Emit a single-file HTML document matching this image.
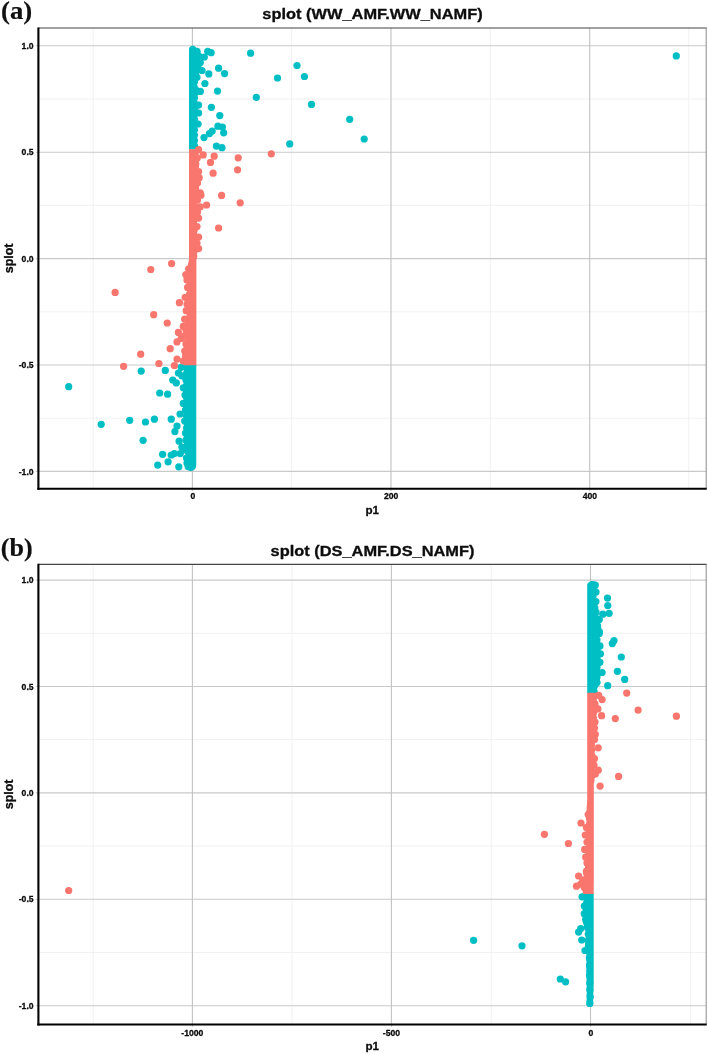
<!DOCTYPE html>
<html><head><meta charset="utf-8"><title>splot</title>
<style>
html,body{margin:0;padding:0;background:#fff;}
svg{display:block;}
text{font-family:"Liberation Sans",sans-serif;font-weight:bold;fill:#0d0d0d;stroke:#0d0d0d;stroke-width:0.3px;}
.tk{font-size:8.65px;}
.ax{font-size:12.5px;}
.tt{font-size:14.4px;}
.pl{font-family:"Liberation Serif",serif;font-size:26px;font-weight:bold;fill:#111;stroke-width:0.2px;}
</style></head><body>
<svg width="708" height="1054" viewBox="0 0 708 1054">
<rect width="708" height="1054" fill="#fff"/>
<line x1="38.4" x2="706.2" y1="99.0" y2="99.0" stroke="#efefef" stroke-width="0.9"/>
<line x1="38.4" x2="706.2" y1="205.4" y2="205.4" stroke="#efefef" stroke-width="0.9"/>
<line x1="38.4" x2="706.2" y1="311.8" y2="311.8" stroke="#efefef" stroke-width="0.9"/>
<line x1="38.4" x2="706.2" y1="418.2" y2="418.2" stroke="#efefef" stroke-width="0.9"/>
<line x1="93.2" x2="93.2" y1="28.0" y2="488.7" stroke="#efefef" stroke-width="0.9"/>
<line x1="291.7" x2="291.7" y1="28.0" y2="488.7" stroke="#efefef" stroke-width="0.9"/>
<line x1="490.3" x2="490.3" y1="28.0" y2="488.7" stroke="#efefef" stroke-width="0.9"/>
<line x1="688.8" x2="688.8" y1="28.0" y2="488.7" stroke="#efefef" stroke-width="0.9"/>
<line x1="35.8" x2="706.2" y1="45.8" y2="45.8" stroke="#c9c9c9" stroke-width="1.1"/>
<line x1="35.8" x2="706.2" y1="152.2" y2="152.2" stroke="#c9c9c9" stroke-width="1.1"/>
<line x1="35.8" x2="706.2" y1="258.6" y2="258.6" stroke="#c9c9c9" stroke-width="1.1"/>
<line x1="35.8" x2="706.2" y1="365.0" y2="365.0" stroke="#c9c9c9" stroke-width="1.1"/>
<line x1="35.8" x2="706.2" y1="471.4" y2="471.4" stroke="#c9c9c9" stroke-width="1.1"/>
<line x1="192.4" x2="192.4" y1="28.0" y2="490.9" stroke="#c2c2c2" stroke-width="1.1"/>
<line x1="391.0" x2="391.0" y1="28.0" y2="490.9" stroke="#c2c2c2" stroke-width="1.1"/>
<line x1="589.7" x2="589.7" y1="28.0" y2="490.9" stroke="#c2c2c2" stroke-width="1.1"/>
<circle cx="676.3" cy="55.9" r="3.62" fill="#00BFC4"/><circle cx="250.6" cy="53.2" r="3.62" fill="#00BFC4"/><circle cx="207.7" cy="51.3" r="3.62" fill="#00BFC4"/><circle cx="211.1" cy="52.7" r="3.62" fill="#00BFC4"/><circle cx="204.3" cy="57.0" r="3.62" fill="#00BFC4"/><circle cx="218.6" cy="68.2" r="3.62" fill="#00BFC4"/><circle cx="224.6" cy="73.6" r="3.62" fill="#00BFC4"/><circle cx="208.8" cy="73.9" r="3.62" fill="#00BFC4"/><circle cx="202.0" cy="70.5" r="3.62" fill="#00BFC4"/><circle cx="204.9" cy="83.5" r="3.62" fill="#00BFC4"/><circle cx="217.5" cy="91.1" r="3.62" fill="#00BFC4"/><circle cx="256.3" cy="97.3" r="3.62" fill="#00BFC4"/><circle cx="200.3" cy="91.4" r="3.62" fill="#00BFC4"/><circle cx="197.0" cy="51.3" r="3.62" fill="#00BFC4"/><circle cx="198.6" cy="55.8" r="3.62" fill="#00BFC4"/><circle cx="200.3" cy="62.6" r="3.62" fill="#00BFC4"/><circle cx="197.0" cy="77.3" r="3.62" fill="#00BFC4"/><circle cx="211.4" cy="107.3" r="3.62" fill="#00BFC4"/><circle cx="219.8" cy="115.6" r="3.62" fill="#00BFC4"/><circle cx="217.9" cy="126.2" r="3.62" fill="#00BFC4"/><circle cx="222.4" cy="127.1" r="3.62" fill="#00BFC4"/><circle cx="223.7" cy="132.8" r="3.62" fill="#00BFC4"/><circle cx="212.2" cy="131.1" r="3.62" fill="#00BFC4"/><circle cx="209.4" cy="133.6" r="3.62" fill="#00BFC4"/><circle cx="204.0" cy="137.6" r="3.62" fill="#00BFC4"/><circle cx="216.4" cy="146.1" r="3.62" fill="#00BFC4"/><circle cx="222.0" cy="147.7" r="3.62" fill="#00BFC4"/><circle cx="198.6" cy="105.1" r="3.62" fill="#00BFC4"/><circle cx="198.6" cy="113.0" r="3.62" fill="#00BFC4"/><circle cx="198.1" cy="124.0" r="3.62" fill="#00BFC4"/><circle cx="297.0" cy="65.5" r="3.62" fill="#00BFC4"/><circle cx="277.5" cy="78.0" r="3.62" fill="#00BFC4"/><circle cx="304.4" cy="76.5" r="3.62" fill="#00BFC4"/><circle cx="311.5" cy="104.4" r="3.62" fill="#00BFC4"/><circle cx="349.7" cy="119.3" r="3.62" fill="#00BFC4"/><circle cx="364.2" cy="139.0" r="3.62" fill="#00BFC4"/><circle cx="289.7" cy="143.9" r="3.62" fill="#00BFC4"/><circle cx="141.2" cy="371.1" r="3.62" fill="#00BFC4"/><circle cx="165.3" cy="370.4" r="3.62" fill="#00BFC4"/><circle cx="181.2" cy="367.3" r="3.62" fill="#00BFC4"/><circle cx="178.4" cy="373.0" r="3.62" fill="#00BFC4"/><circle cx="181.9" cy="375.8" r="3.62" fill="#00BFC4"/><circle cx="172.7" cy="380.0" r="3.62" fill="#00BFC4"/><circle cx="176.3" cy="382.9" r="3.62" fill="#00BFC4"/><circle cx="159.7" cy="393.0" r="3.62" fill="#00BFC4"/><circle cx="167.6" cy="394.2" r="3.62" fill="#00BFC4"/><circle cx="180.1" cy="414.0" r="3.62" fill="#00BFC4"/><circle cx="171.3" cy="419.2" r="3.62" fill="#00BFC4"/><circle cx="154.4" cy="419.2" r="3.62" fill="#00BFC4"/><circle cx="145.5" cy="422.0" r="3.62" fill="#00BFC4"/><circle cx="129.7" cy="420.3" r="3.62" fill="#00BFC4"/><circle cx="101.2" cy="424.3" r="3.62" fill="#00BFC4"/><circle cx="177.0" cy="426.0" r="3.62" fill="#00BFC4"/><circle cx="174.9" cy="431.6" r="3.62" fill="#00BFC4"/><circle cx="143.1" cy="440.3" r="3.62" fill="#00BFC4"/><circle cx="179.1" cy="441.2" r="3.62" fill="#00BFC4"/><circle cx="162.6" cy="454.3" r="3.62" fill="#00BFC4"/><circle cx="171.2" cy="455.0" r="3.62" fill="#00BFC4"/><circle cx="174.3" cy="453.6" r="3.62" fill="#00BFC4"/><circle cx="183.3" cy="403.4" r="3.62" fill="#00BFC4"/><circle cx="184.7" cy="421.0" r="3.62" fill="#00BFC4"/><circle cx="185.5" cy="433.0" r="3.62" fill="#00BFC4"/><circle cx="181.9" cy="447.1" r="3.62" fill="#00BFC4"/><circle cx="183.3" cy="387.8" r="3.62" fill="#00BFC4"/><circle cx="168.1" cy="461.8" r="3.62" fill="#00BFC4"/><circle cx="157.7" cy="465.1" r="3.62" fill="#00BFC4"/><circle cx="178.8" cy="466.8" r="3.62" fill="#00BFC4"/><circle cx="188.2" cy="466.6" r="3.62" fill="#00BFC4"/><circle cx="180.3" cy="453.6" r="3.62" fill="#00BFC4"/><circle cx="68.7" cy="386.7" r="3.62" fill="#00BFC4"/><circle cx="186.0" cy="440.0" r="3.62" fill="#00BFC4"/><circle cx="186.0" cy="450.0" r="3.62" fill="#00BFC4"/><circle cx="186.5" cy="458.0" r="3.62" fill="#00BFC4"/><circle cx="187.0" cy="463.0" r="3.62" fill="#00BFC4"/><circle cx="185.0" cy="395.0" r="3.62" fill="#00BFC4"/><circle cx="185.5" cy="410.0" r="3.62" fill="#00BFC4"/><circle cx="186.0" cy="380.0" r="3.62" fill="#00BFC4"/><path d="M192.7 45.5 L195.2 46.5 L196.0 47.5 L196.3 48.5 L197.9 49.5 L199.9 50.5 L200.6 51.5 L200.0 52.5 L200.1 53.5 L200.7 54.5 L201.0 55.5 L201.0 56.5 L200.5 57.5 L200.2 58.5 L200.8 59.5 L201.3 60.5 L201.3 61.5 L200.9 62.5 L200.3 63.5 L200.9 64.5 L201.4 65.5 L201.5 66.5 L201.2 67.5 L200.6 68.5 L200.8 69.5 L201.1 70.5 L200.8 71.5 L200.1 72.5 L199.2 73.5 L198.6 74.5 L199.0 75.5 L199.1 76.5 L198.8 77.5 L198.1 78.5 L197.1 79.5 L197.7 80.5 L198.0 81.5 L198.1 82.5 L197.7 83.5 L197.1 84.5 L197.3 85.5 L197.8 86.5 L198.5 87.5 L199.4 88.5 L199.4 89.5 L199.3 90.5 L199.9 91.5 L200.2 92.5 L200.1 93.5 L199.1 94.5 L197.6 95.5 L197.7 96.5 L198.1 97.5 L198.2 98.5 L197.8 99.5 L197.1 100.5 L197.5 101.5 L198.1 102.5 L198.2 103.5 L197.9 104.5 L197.4 105.5 L197.4 106.5 L197.9 107.5 L198.2 108.5 L198.1 109.5 L197.5 110.5 L197.1 111.5 L197.8 112.5 L198.2 113.5 L198.1 114.5 L197.7 115.5 L197.1 116.5 L197.6 117.5 L198.1 118.5 L198.2 119.5 L197.9 120.5 L197.3 121.5 L197.4 122.5 L198.0 123.5 L198.2 124.5 L198.0 125.5 L197.5 126.5 L197.2 127.5 L197.8 128.5 L198.2 129.5 L198.1 130.5 L197.7 131.5 L197.0 132.5 L197.7 133.5 L198.1 134.5 L198.2 135.5 L197.8 136.5 L197.2 137.5 L197.5 138.5 L198.0 139.5 L198.2 140.5 L198.0 141.5 L197.4 142.5 L197.3 143.5 L197.9 144.5 L198.2 145.5 L198.1 146.5 L197.6 147.5 L197.1 148.5 L197.7 149.5 L197.8 149.6 L189.0 149.6 L189.0 149.5 L189.0 148.5 L189.0 147.5 L189.0 146.5 L189.0 145.5 L189.0 144.5 L189.0 143.5 L189.0 142.5 L189.0 141.5 L189.0 140.5 L189.0 139.5 L189.0 138.5 L189.0 137.5 L189.0 136.5 L189.0 135.5 L189.0 134.5 L189.0 133.5 L189.0 132.5 L189.0 131.5 L189.0 130.5 L189.0 129.5 L189.0 128.5 L189.0 127.5 L189.0 126.5 L189.0 125.5 L189.0 124.5 L189.0 123.5 L189.0 122.5 L189.0 121.5 L189.0 120.5 L189.0 119.5 L189.0 118.5 L189.0 117.5 L189.0 116.5 L189.0 115.5 L189.0 114.5 L189.0 113.5 L189.0 112.5 L189.0 111.5 L189.0 110.5 L189.0 109.5 L189.0 108.5 L189.0 107.5 L189.0 106.5 L189.0 105.5 L189.0 104.5 L189.0 103.5 L189.0 102.5 L189.0 101.5 L189.0 100.5 L189.0 99.5 L189.0 98.5 L189.0 97.5 L189.0 96.5 L189.0 95.5 L189.0 94.5 L189.0 93.5 L189.0 92.5 L189.0 91.5 L189.0 90.5 L189.0 89.5 L189.0 88.5 L189.0 87.5 L189.0 86.5 L189.0 85.5 L189.0 84.5 L189.0 83.5 L189.0 82.5 L189.0 81.5 L189.0 80.5 L189.0 79.5 L189.0 78.5 L189.0 77.5 L189.0 76.5 L189.0 75.5 L189.0 74.5 L189.0 73.5 L189.0 72.5 L189.0 71.5 L189.0 70.5 L189.0 69.5 L189.0 68.5 L189.0 67.5 L189.0 66.5 L189.0 65.5 L189.0 64.5 L189.0 63.5 L189.0 62.5 L189.0 61.5 L189.0 60.5 L189.0 59.5 L189.0 58.5 L189.0 57.5 L189.0 56.5 L189.0 55.5 L189.0 54.5 L189.0 53.5 L189.0 52.5 L189.0 51.5 L189.0 50.5 L189.0 49.5 L189.1 48.5 L189.4 47.5 L190.2 46.5 L192.7 45.5Z" fill="#00BFC4"/><path d="M196.4 365.0 L196.3 366.0 L196.3 367.0 L196.3 368.0 L196.3 369.0 L196.3 370.0 L196.3 371.0 L196.3 372.0 L196.3 373.0 L196.3 374.0 L196.3 375.0 L196.3 376.0 L196.3 377.0 L196.3 378.0 L196.3 379.0 L196.3 380.0 L196.3 381.0 L196.3 382.0 L196.3 383.0 L196.3 384.0 L196.3 385.0 L196.3 386.0 L196.3 387.0 L196.3 388.0 L196.3 389.0 L196.3 390.0 L196.3 391.0 L196.3 392.0 L196.3 393.0 L196.3 394.0 L196.3 395.0 L196.3 396.0 L196.3 397.0 L196.3 398.0 L196.3 399.0 L196.3 400.0 L196.3 401.0 L196.3 402.0 L196.3 403.0 L196.3 404.0 L196.3 405.0 L196.3 406.0 L196.3 407.0 L196.3 408.0 L196.3 409.0 L196.3 410.0 L196.3 411.0 L196.3 412.0 L196.3 413.0 L196.3 414.0 L196.3 415.0 L196.3 416.0 L196.3 417.0 L196.3 418.0 L196.3 419.0 L196.3 420.0 L196.3 421.0 L196.3 422.0 L196.3 423.0 L196.3 424.0 L196.3 425.0 L196.3 426.0 L196.3 427.0 L196.3 428.0 L196.3 429.0 L196.3 430.0 L196.3 431.0 L196.3 432.0 L196.3 433.0 L196.3 434.0 L196.3 435.0 L196.3 436.0 L196.3 437.0 L196.3 438.0 L196.3 439.0 L196.3 440.0 L196.3 441.0 L196.3 442.0 L196.3 443.0 L196.3 444.0 L196.3 445.0 L196.3 446.0 L196.3 447.0 L196.3 448.0 L196.3 449.0 L196.3 450.0 L196.3 451.0 L196.3 452.0 L196.3 453.0 L196.3 454.0 L196.3 455.0 L196.3 456.0 L196.3 457.0 L196.3 458.0 L196.3 459.0 L196.3 460.0 L196.3 461.0 L196.3 462.0 L196.3 463.0 L196.3 464.0 L196.3 465.0 L196.1 466.0 L196.0 467.0 L195.6 468.0 L195.0 469.0 L194.0 470.0 L191.8 471.0 L190.8 471.1 L190.8 471.1 L189.8 471.0 L187.6 470.0 L186.6 469.0 L186.0 468.0 L185.7 467.0 L185.5 466.0 L184.9 465.0 L184.9 464.0 L185.2 463.0 L185.8 462.0 L185.6 461.0 L185.1 460.0 L184.8 459.0 L184.8 458.0 L185.1 457.0 L185.6 456.0 L185.6 455.0 L185.0 454.0 L184.7 453.0 L184.6 452.0 L184.7 451.0 L185.0 450.0 L185.0 449.0 L184.2 448.0 L183.7 447.0 L183.4 446.0 L183.5 445.0 L184.0 444.0 L184.2 443.0 L183.6 442.0 L183.2 441.0 L183.1 440.0 L183.3 439.0 L183.8 438.0 L184.1 437.0 L183.6 436.0 L183.2 435.0 L183.0 434.0 L183.2 433.0 L183.7 432.0 L184.1 431.0 L183.5 430.0 L183.1 429.0 L182.9 428.0 L183.1 427.0 L183.5 426.0 L184.1 425.0 L183.5 424.0 L183.0 423.0 L182.8 422.0 L183.0 421.0 L183.4 420.0 L183.9 419.0 L183.5 418.0 L183.0 417.0 L182.8 416.0 L182.9 415.0 L183.3 414.0 L183.9 413.0 L183.5 412.0 L183.1 411.0 L182.8 410.0 L182.9 409.0 L183.3 408.0 L183.9 407.0 L183.6 406.0 L183.1 405.0 L182.9 404.0 L182.9 403.0 L183.3 402.0 L183.8 401.0 L183.7 400.0 L183.2 399.0 L182.9 398.0 L182.9 397.0 L183.2 396.0 L183.8 395.0 L183.8 394.0 L183.3 393.0 L182.9 392.0 L182.9 391.0 L183.2 390.0 L183.7 389.0 L183.9 388.0 L183.3 387.0 L183.0 386.0 L182.9 385.0 L183.2 384.0 L183.7 383.0 L184.0 382.0 L183.4 381.0 L183.0 380.0 L183.0 379.0 L183.2 378.0 L183.7 377.0 L184.0 376.0 L183.5 375.0 L183.1 374.0 L183.0 373.0 L183.2 372.0 L183.6 371.0 L184.1 370.0 L183.5 369.0 L183.1 368.0 L183.0 367.0 L183.2 366.0 L183.6 365.0Z" fill="#00BFC4"/><path d="M197.5 149.2 L198.2 150.2 L199.0 151.2 L199.3 152.2 L198.6 153.2 L198.5 154.2 L198.9 155.2 L199.1 156.2 L198.8 157.2 L198.2 158.2 L197.6 159.2 L198.2 160.2 L198.6 161.2 L198.7 162.2 L198.3 163.2 L197.7 164.2 L198.3 165.2 L198.9 166.2 L199.0 167.2 L198.8 168.2 L198.2 169.2 L198.4 170.2 L199.0 171.2 L199.2 172.2 L199.0 173.2 L198.5 174.2 L198.3 175.2 L198.9 176.2 L199.2 177.2 L199.2 178.2 L198.7 179.2 L198.1 180.2 L198.8 181.2 L199.2 182.2 L199.3 183.2 L198.9 184.2 L198.3 185.2 L198.6 186.2 L199.1 187.2 L199.3 188.2 L199.1 189.2 L198.6 190.2 L198.4 191.2 L199.1 192.2 L199.4 193.2 L199.3 194.2 L198.8 195.2 L198.1 196.2 L198.1 197.2 L197.8 198.2 L197.8 199.2 L197.5 200.2 L197.0 201.2 L197.3 202.2 L197.7 203.2 L197.8 204.2 L197.6 205.2 L197.2 206.2 L197.2 207.2 L197.6 208.2 L197.8 209.2 L197.7 210.2 L197.3 211.2 L197.0 212.2 L197.5 213.2 L197.8 214.2 L197.7 215.2 L197.4 216.2 L196.9 217.2 L197.3 218.2 L197.7 219.2 L197.7 220.2 L197.5 221.2 L197.1 222.2 L197.2 223.2 L197.6 224.2 L197.7 225.2 L197.6 226.2 L197.2 227.2 L197.0 228.2 L197.5 229.2 L197.7 230.2 L197.6 231.2 L197.3 232.2 L196.9 233.2 L197.3 234.2 L197.6 235.2 L197.7 236.2 L197.4 237.2 L197.0 238.2 L197.2 239.2 L197.5 240.2 L197.6 241.2 L197.5 242.2 L197.1 243.2 L197.0 244.2 L197.4 245.2 L197.6 246.2 L197.5 247.2 L197.2 248.2 L196.9 249.2 L197.3 250.2 L197.5 251.2 L197.6 252.2 L197.3 253.2 L196.9 254.2 L197.2 255.2 L197.4 256.2 L197.2 257.2 L196.8 258.2 L196.6 259.2 L196.4 260.2 L196.4 261.2 L196.4 262.2 L196.4 263.2 L196.4 264.2 L196.4 265.2 L196.4 266.2 L196.4 267.2 L196.4 268.2 L196.4 269.2 L196.4 270.2 L196.4 271.2 L196.4 272.2 L196.4 273.2 L196.4 274.2 L196.4 275.2 L196.4 276.2 L196.4 277.2 L196.4 278.2 L196.4 279.2 L196.4 280.2 L196.4 281.2 L196.4 282.2 L196.4 283.2 L196.4 284.2 L196.4 285.2 L196.4 286.2 L196.4 287.2 L196.4 288.2 L196.4 289.2 L196.4 290.2 L196.4 291.2 L196.4 292.2 L196.4 293.2 L196.4 294.2 L196.4 295.2 L196.4 296.2 L196.4 297.2 L196.4 298.2 L196.4 299.2 L196.4 300.2 L196.4 301.2 L196.4 302.2 L196.4 303.2 L196.4 304.2 L196.4 305.2 L196.4 306.2 L196.4 307.2 L196.4 308.2 L196.4 309.2 L196.4 310.2 L196.4 311.2 L196.4 312.2 L196.4 313.2 L196.4 314.2 L196.4 315.2 L196.4 316.2 L196.4 317.2 L196.4 318.2 L196.4 319.2 L196.4 320.2 L196.4 321.2 L196.4 322.2 L196.4 323.2 L196.4 324.2 L196.4 325.2 L196.4 326.2 L196.4 327.2 L196.4 328.2 L196.4 329.2 L196.4 330.2 L196.4 331.2 L196.4 332.2 L196.4 333.2 L196.4 334.2 L196.4 335.2 L196.4 336.2 L196.4 337.2 L196.4 338.2 L196.4 339.2 L196.4 340.2 L196.4 341.2 L196.4 342.2 L196.4 343.2 L196.4 344.2 L196.4 345.2 L196.4 346.2 L196.4 347.2 L196.4 348.2 L196.4 349.2 L196.4 350.2 L196.4 351.2 L196.4 352.2 L196.4 353.2 L196.4 354.2 L196.4 355.2 L196.4 356.2 L196.4 357.2 L196.4 358.2 L196.4 359.2 L196.4 360.2 L196.4 361.2 L196.4 362.2 L196.4 363.2 L196.4 364.2 L196.4 365.2 L183.5 365.2 L184.1 364.2 L183.7 363.2 L183.3 362.2 L183.1 361.2 L183.2 360.2 L183.5 359.2 L184.1 358.2 L183.9 357.2 L183.4 356.2 L183.2 355.2 L183.2 354.2 L183.6 353.2 L184.1 352.2 L184.0 351.2 L183.5 350.2 L183.3 349.2 L183.3 348.2 L183.6 347.2 L184.2 346.2 L184.2 345.2 L183.7 344.2 L183.4 343.2 L183.4 342.2 L183.7 341.2 L184.2 340.2 L184.3 339.2 L183.8 338.2 L183.5 337.2 L183.4 336.2 L183.7 335.2 L184.2 334.2 L184.5 333.2 L183.9 332.2 L183.6 331.2 L183.5 330.2 L183.8 329.2 L184.3 328.2 L184.6 327.2 L184.1 326.2 L183.7 325.2 L183.6 324.2 L184.1 323.2 L184.9 322.2 L185.7 321.2 L185.4 320.2 L185.3 319.2 L185.5 318.2 L185.8 317.2 L186.2 316.2 L186.8 315.2 L186.3 314.2 L185.9 313.2 L185.7 312.2 L185.9 311.2 L186.3 310.2 L186.9 309.2 L186.4 308.2 L186.0 307.2 L185.8 306.2 L185.9 305.2 L186.3 304.2 L186.9 303.2 L186.6 302.2 L186.1 301.2 L185.9 300.2 L186.0 299.2 L186.4 298.2 L187.0 297.2 L186.7 296.2 L186.3 295.2 L186.0 294.2 L186.1 293.2 L186.4 292.2 L187.0 291.2 L186.9 290.2 L186.4 289.2 L186.1 288.2 L186.2 287.2 L186.5 286.2 L187.0 285.2 L187.1 284.2 L186.5 283.2 L186.2 282.2 L186.2 281.2 L186.5 280.2 L187.1 279.2 L187.2 278.2 L186.7 277.2 L186.4 276.2 L186.3 275.2 L186.6 274.2 L187.1 273.2 L187.4 272.2 L186.8 271.2 L186.5 270.2 L186.6 269.2 L187.0 268.2 L187.7 267.2 L188.2 266.2 L187.9 265.2 L187.9 264.2 L188.2 263.2 L188.5 262.2 L188.7 261.2 L188.8 260.2 L188.9 259.2 L189.0 258.2 L189.0 257.2 L189.0 256.2 L189.0 255.2 L189.0 254.2 L189.0 253.2 L189.0 252.2 L189.0 251.2 L189.0 250.2 L189.0 249.2 L189.0 248.2 L189.0 247.2 L189.0 246.2 L189.0 245.2 L189.0 244.2 L189.0 243.2 L189.0 242.2 L189.0 241.2 L189.0 240.2 L189.0 239.2 L189.0 238.2 L189.0 237.2 L189.0 236.2 L189.0 235.2 L189.0 234.2 L189.0 233.2 L189.0 232.2 L189.0 231.2 L189.0 230.2 L189.0 229.2 L189.0 228.2 L189.0 227.2 L189.0 226.2 L189.0 225.2 L189.0 224.2 L189.0 223.2 L189.0 222.2 L189.0 221.2 L189.0 220.2 L189.0 219.2 L189.0 218.2 L189.0 217.2 L189.0 216.2 L189.0 215.2 L189.0 214.2 L189.0 213.2 L189.0 212.2 L189.0 211.2 L189.0 210.2 L189.0 209.2 L189.0 208.2 L189.0 207.2 L189.0 206.2 L189.0 205.2 L189.0 204.2 L189.0 203.2 L189.0 202.2 L189.0 201.2 L189.0 200.2 L189.0 199.2 L189.0 198.2 L189.0 197.2 L189.0 196.2 L189.0 195.2 L189.0 194.2 L189.0 193.2 L189.0 192.2 L189.0 191.2 L189.0 190.2 L189.0 189.2 L189.0 188.2 L189.0 187.2 L189.0 186.2 L189.0 185.2 L189.0 184.2 L189.0 183.2 L189.0 182.2 L189.0 181.2 L189.0 180.2 L189.0 179.2 L189.0 178.2 L189.0 177.2 L189.0 176.2 L189.0 175.2 L189.0 174.2 L189.0 173.2 L189.0 172.2 L189.0 171.2 L189.0 170.2 L189.0 169.2 L189.0 168.2 L189.0 167.2 L189.0 166.2 L189.0 165.2 L189.0 164.2 L189.0 163.2 L189.0 162.2 L189.0 161.2 L189.0 160.2 L189.0 159.2 L189.0 158.2 L189.0 157.2 L189.0 156.2 L189.0 155.2 L189.0 154.2 L189.0 153.2 L189.0 152.2 L189.0 151.2 L189.0 150.2 L189.0 149.2Z" fill="#F8766D"/><circle cx="198.6" cy="149.7" r="3.62" fill="#F8766D"/><circle cx="203.2" cy="154.9" r="3.62" fill="#F8766D"/><circle cx="214.2" cy="156.2" r="3.62" fill="#F8766D"/><circle cx="238.2" cy="157.8" r="3.62" fill="#F8766D"/><circle cx="271.3" cy="153.8" r="3.62" fill="#F8766D"/><circle cx="210.5" cy="162.4" r="3.62" fill="#F8766D"/><circle cx="237.6" cy="169.8" r="3.62" fill="#F8766D"/><circle cx="213.1" cy="173.2" r="3.62" fill="#F8766D"/><circle cx="221.6" cy="195.4" r="3.62" fill="#F8766D"/><circle cx="240.2" cy="202.8" r="3.62" fill="#F8766D"/><circle cx="206.6" cy="205.0" r="3.62" fill="#F8766D"/><circle cx="198.6" cy="171.5" r="3.62" fill="#F8766D"/><circle cx="199.2" cy="177.7" r="3.62" fill="#F8766D"/><circle cx="200.3" cy="192.9" r="3.62" fill="#F8766D"/><circle cx="200.9" cy="195.2" r="3.62" fill="#F8766D"/><circle cx="195.8" cy="164.0" r="3.62" fill="#F8766D"/><circle cx="218.6" cy="228.0" r="3.62" fill="#F8766D"/><circle cx="198.6" cy="237.1" r="3.62" fill="#F8766D"/><circle cx="198.6" cy="248.6" r="3.62" fill="#F8766D"/><circle cx="197.0" cy="226.6" r="3.62" fill="#F8766D"/><circle cx="198.6" cy="218.1" r="3.62" fill="#F8766D"/><circle cx="200.3" cy="206.8" r="3.62" fill="#F8766D"/><circle cx="197.5" cy="183.0" r="3.62" fill="#F8766D"/><circle cx="197.5" cy="200.0" r="3.62" fill="#F8766D"/><circle cx="197.5" cy="212.0" r="3.62" fill="#F8766D"/><circle cx="197.0" cy="243.0" r="3.62" fill="#F8766D"/><circle cx="197.3" cy="158.0" r="3.62" fill="#F8766D"/><circle cx="171.6" cy="263.6" r="3.62" fill="#F8766D"/><circle cx="150.8" cy="269.5" r="3.62" fill="#F8766D"/><circle cx="115.1" cy="292.4" r="3.62" fill="#F8766D"/><circle cx="179.4" cy="302.7" r="3.62" fill="#F8766D"/><circle cx="153.7" cy="314.7" r="3.62" fill="#F8766D"/><circle cx="167.2" cy="323.0" r="3.62" fill="#F8766D"/><circle cx="188.7" cy="268.8" r="3.62" fill="#F8766D"/><circle cx="185.9" cy="274.7" r="3.62" fill="#F8766D"/><circle cx="187.6" cy="287.4" r="3.62" fill="#F8766D"/><circle cx="185.2" cy="297.3" r="3.62" fill="#F8766D"/><circle cx="186.2" cy="310.7" r="3.62" fill="#F8766D"/><circle cx="184.7" cy="319.2" r="3.62" fill="#F8766D"/><circle cx="178.4" cy="332.4" r="3.62" fill="#F8766D"/><circle cx="177.0" cy="341.9" r="3.62" fill="#F8766D"/><circle cx="181.2" cy="338.4" r="3.62" fill="#F8766D"/><circle cx="170.2" cy="348.7" r="3.62" fill="#F8766D"/><circle cx="140.7" cy="354.2" r="3.62" fill="#F8766D"/><circle cx="177.0" cy="359.1" r="3.62" fill="#F8766D"/><circle cx="158.9" cy="363.5" r="3.62" fill="#F8766D"/><circle cx="123.6" cy="366.3" r="3.62" fill="#F8766D"/><circle cx="174.4" cy="365.5" r="3.62" fill="#F8766D"/><circle cx="183.3" cy="326.4" r="3.62" fill="#F8766D"/><circle cx="184.7" cy="335.5" r="3.62" fill="#F8766D"/><circle cx="184.7" cy="351.1" r="3.62" fill="#F8766D"/><circle cx="183.3" cy="361.0" r="3.62" fill="#F8766D"/><circle cx="187.0" cy="280.0" r="3.62" fill="#F8766D"/><circle cx="187.0" cy="304.0" r="3.62" fill="#F8766D"/><circle cx="186.0" cy="330.0" r="3.62" fill="#F8766D"/><circle cx="186.0" cy="344.0" r="3.62" fill="#F8766D"/><circle cx="185.5" cy="356.0" r="3.62" fill="#F8766D"/>
<line x1="38.4" x2="706.7" y1="28.0" y2="28.0" stroke="#454545" stroke-width="1.2"/>
<line x1="706.2" x2="706.2" y1="28.0" y2="488.7" stroke="#8a8a8a" stroke-width="1"/>
<line x1="38.4" x2="38.4" y1="27.4" y2="489.7" stroke="#000" stroke-width="2.1"/>
<line x1="37.35" x2="706.7" y1="488.7" y2="488.7" stroke="#000" stroke-width="2.1"/>
<text x="33.6" y="48.9" text-anchor="end" class="tk">1.0</text>
<text x="33.6" y="155.3" text-anchor="end" class="tk">0.5</text>
<text x="33.6" y="261.7" text-anchor="end" class="tk">0.0</text>
<text x="33.6" y="368.1" text-anchor="end" class="tk">-0.5</text>
<text x="33.6" y="474.5" text-anchor="end" class="tk">-1.0</text>
<text x="192.9" y="499.2" text-anchor="middle" class="tk">0</text>
<text x="391.2" y="499.2" text-anchor="middle" class="tk">200</text>
<text x="589.9" y="499.2" text-anchor="middle" class="tk">400</text>
<text x="372.3" y="513.6" text-anchor="middle" class="ax" style="font-size:11.6px">p1</text>
<text transform="translate(13.4,258.4) rotate(-90)" text-anchor="middle" class="ax">splot</text>
<text transform="translate(372.5,19.1) scale(1.139,1)" text-anchor="middle" class="tt">splot (WW_AMF.WW_NAMF)</text>
<text transform="translate(1.0,19.3) scale(1.03,1)" class="pl">(a)</text>
<line x1="38.4" x2="706.2" y1="633.3" y2="633.3" stroke="#efefef" stroke-width="0.9"/>
<line x1="38.4" x2="706.2" y1="739.7" y2="739.7" stroke="#efefef" stroke-width="0.9"/>
<line x1="38.4" x2="706.2" y1="846.1" y2="846.1" stroke="#efefef" stroke-width="0.9"/>
<line x1="38.4" x2="706.2" y1="952.5" y2="952.5" stroke="#efefef" stroke-width="0.9"/>
<line x1="93.2" x2="93.2" y1="564.3" y2="1024.5" stroke="#efefef" stroke-width="0.9"/>
<line x1="291.9" x2="291.9" y1="564.3" y2="1024.5" stroke="#efefef" stroke-width="0.9"/>
<line x1="491.2" x2="491.2" y1="564.3" y2="1024.5" stroke="#efefef" stroke-width="0.9"/>
<line x1="690.4" x2="690.4" y1="564.3" y2="1024.5" stroke="#efefef" stroke-width="0.9"/>
<line x1="35.8" x2="706.2" y1="580.1" y2="580.1" stroke="#c9c9c9" stroke-width="1.1"/>
<line x1="35.8" x2="706.2" y1="686.5" y2="686.5" stroke="#c9c9c9" stroke-width="1.1"/>
<line x1="35.8" x2="706.2" y1="792.9" y2="792.9" stroke="#c9c9c9" stroke-width="1.1"/>
<line x1="35.8" x2="706.2" y1="899.3" y2="899.3" stroke="#c9c9c9" stroke-width="1.1"/>
<line x1="35.8" x2="706.2" y1="1005.7" y2="1005.7" stroke="#c9c9c9" stroke-width="1.1"/>
<line x1="192.4" x2="192.4" y1="564.3" y2="1026.7" stroke="#c2c2c2" stroke-width="1.1"/>
<line x1="391.4" x2="391.4" y1="564.3" y2="1026.7" stroke="#c2c2c2" stroke-width="1.1"/>
<line x1="590.5" x2="590.5" y1="564.3" y2="1026.7" stroke="#c2c2c2" stroke-width="1.1"/>
<circle cx="607.5" cy="598.1" r="3.62" fill="#00BFC4"/><circle cx="607.8" cy="605.6" r="3.62" fill="#00BFC4"/><circle cx="609.1" cy="613.3" r="3.62" fill="#00BFC4"/><circle cx="602.8" cy="614.2" r="3.62" fill="#00BFC4"/><circle cx="592.0" cy="584.6" r="3.62" fill="#00BFC4"/><circle cx="595.3" cy="585.0" r="3.62" fill="#00BFC4"/><circle cx="594.2" cy="585.2" r="3.62" fill="#00BFC4"/><circle cx="595.9" cy="601.6" r="3.62" fill="#00BFC4"/><circle cx="594.8" cy="607.8" r="3.62" fill="#00BFC4"/><circle cx="599.3" cy="619.6" r="3.62" fill="#00BFC4"/><circle cx="597.6" cy="625.8" r="3.62" fill="#00BFC4"/><circle cx="599.3" cy="631.5" r="3.62" fill="#00BFC4"/><circle cx="614.0" cy="640.6" r="3.62" fill="#00BFC4"/><circle cx="612.3" cy="643.6" r="3.62" fill="#00BFC4"/><circle cx="621.3" cy="657.0" r="3.62" fill="#00BFC4"/><circle cx="617.4" cy="671.3" r="3.62" fill="#00BFC4"/><circle cx="624.7" cy="679.4" r="3.62" fill="#00BFC4"/><circle cx="607.7" cy="685.7" r="3.62" fill="#00BFC4"/><circle cx="599.3" cy="633.5" r="3.62" fill="#00BFC4"/><circle cx="599.9" cy="645.9" r="3.62" fill="#00BFC4"/><circle cx="600.4" cy="653.8" r="3.62" fill="#00BFC4"/><circle cx="599.9" cy="662.3" r="3.62" fill="#00BFC4"/><circle cx="602.1" cy="672.5" r="3.62" fill="#00BFC4"/><circle cx="597.6" cy="627.3" r="3.62" fill="#00BFC4"/><circle cx="597.0" cy="682.6" r="3.62" fill="#00BFC4"/><circle cx="596.0" cy="592.0" r="3.62" fill="#00BFC4"/><circle cx="596.0" cy="612.0" r="3.62" fill="#00BFC4"/><circle cx="597.0" cy="640.0" r="3.62" fill="#00BFC4"/><circle cx="597.0" cy="650.0" r="3.62" fill="#00BFC4"/><circle cx="597.0" cy="658.0" r="3.62" fill="#00BFC4"/><circle cx="597.0" cy="667.0" r="3.62" fill="#00BFC4"/><circle cx="597.0" cy="677.0" r="3.62" fill="#00BFC4"/><circle cx="582.1" cy="896.8" r="3.62" fill="#00BFC4"/><circle cx="585.7" cy="895.4" r="3.62" fill="#00BFC4"/><circle cx="584.3" cy="906.0" r="3.62" fill="#00BFC4"/><circle cx="584.3" cy="913.7" r="3.62" fill="#00BFC4"/><circle cx="585.7" cy="919.4" r="3.62" fill="#00BFC4"/><circle cx="580.7" cy="928.6" r="3.62" fill="#00BFC4"/><circle cx="578.6" cy="932.1" r="3.62" fill="#00BFC4"/><circle cx="581.7" cy="940.0" r="3.62" fill="#00BFC4"/><circle cx="522.0" cy="945.8" r="3.62" fill="#00BFC4"/><circle cx="473.6" cy="940.3" r="3.62" fill="#00BFC4"/><circle cx="585.0" cy="950.5" r="3.62" fill="#00BFC4"/><circle cx="560.3" cy="979.0" r="3.62" fill="#00BFC4"/><circle cx="565.6" cy="981.8" r="3.62" fill="#00BFC4"/><circle cx="590.0" cy="990.0" r="3.62" fill="#00BFC4"/><circle cx="590.2" cy="997.1" r="3.62" fill="#00BFC4"/><circle cx="589.8" cy="1003.4" r="3.62" fill="#00BFC4"/><circle cx="589.4" cy="958.0" r="3.62" fill="#00BFC4"/><circle cx="589.6" cy="966.0" r="3.62" fill="#00BFC4"/><circle cx="589.5" cy="975.0" r="3.62" fill="#00BFC4"/><circle cx="589.8" cy="983.0" r="3.62" fill="#00BFC4"/><circle cx="588.6" cy="944.0" r="3.62" fill="#00BFC4"/><path d="M591.6 581.4 L594.6 582.4 L595.6 583.4 L596.2 584.4 L596.5 585.4 L597.4 586.4 L597.0 587.4 L596.4 588.4 L596.8 589.4 L596.9 590.4 L596.7 591.4 L596.2 592.4 L595.6 593.4 L596.0 594.4 L596.5 595.4 L596.7 596.4 L596.4 597.4 L595.8 598.4 L595.8 599.4 L596.4 600.4 L596.7 601.4 L596.6 602.4 L596.1 603.4 L595.7 604.4 L596.4 605.4 L596.7 606.4 L596.7 607.4 L596.6 608.4 L596.5 609.4 L597.7 610.4 L598.7 611.4 L599.2 612.4 L598.9 613.4 L598.3 614.4 L598.5 615.4 L599.1 616.4 L599.3 617.4 L599.2 618.4 L598.7 619.4 L598.4 620.4 L599.1 621.4 L599.5 622.4 L599.4 623.4 L599.0 624.4 L598.4 625.4 L599.1 626.4 L599.5 627.4 L599.6 628.4 L599.3 629.4 L598.7 630.4 L599.0 631.4 L599.6 632.4 L599.8 633.4 L599.6 634.4 L599.0 635.4 L598.9 636.4 L599.5 637.4 L599.8 638.4 L599.7 639.4 L599.3 640.4 L598.7 641.4 L599.4 642.4 L599.8 643.4 L599.8 644.4 L599.5 645.4 L598.8 646.4 L599.3 647.4 L599.8 648.4 L599.9 649.4 L599.7 650.4 L599.1 651.4 L599.1 652.4 L599.7 653.4 L600.0 654.4 L599.8 655.4 L599.3 656.4 L598.9 657.4 L599.6 658.4 L600.0 659.4 L600.0 660.4 L599.6 661.4 L598.9 662.4 L599.5 663.4 L599.9 664.4 L600.1 665.4 L599.8 666.4 L599.2 667.4 L599.3 668.4 L599.9 669.4 L600.1 670.4 L599.9 671.4 L599.4 672.4 L599.2 673.4 L599.8 674.4 L600.1 675.4 L600.1 676.4 L599.6 677.4 L599.0 678.4 L599.7 679.4 L599.9 680.4 L599.5 681.4 L598.6 682.4 L597.5 683.4 L597.5 684.4 L597.9 685.4 L598.1 686.4 L597.8 687.4 L597.2 688.4 L597.0 689.4 L597.6 690.4 L597.8 691.4 L597.7 692.4 L597.3 693.2 L587.2 693.2 L587.2 692.4 L587.2 691.4 L587.2 690.4 L587.2 689.4 L587.2 688.4 L587.2 687.4 L587.2 686.4 L587.2 685.4 L587.2 684.4 L587.2 683.4 L587.2 682.4 L587.2 681.4 L587.2 680.4 L587.2 679.4 L587.2 678.4 L587.2 677.4 L587.2 676.4 L587.2 675.4 L587.2 674.4 L587.2 673.4 L587.2 672.4 L587.2 671.4 L587.2 670.4 L587.2 669.4 L587.2 668.4 L587.2 667.4 L587.2 666.4 L587.2 665.4 L587.2 664.4 L587.2 663.4 L587.2 662.4 L587.2 661.4 L587.2 660.4 L587.2 659.4 L587.2 658.4 L587.2 657.4 L587.2 656.4 L587.2 655.4 L587.2 654.4 L587.2 653.4 L587.2 652.4 L587.2 651.4 L587.2 650.4 L587.2 649.4 L587.2 648.4 L587.2 647.4 L587.2 646.4 L587.2 645.4 L587.2 644.4 L587.2 643.4 L587.2 642.4 L587.2 641.4 L587.2 640.4 L587.2 639.4 L587.2 638.4 L587.2 637.4 L587.2 636.4 L587.2 635.4 L587.2 634.4 L587.2 633.4 L587.2 632.4 L587.2 631.4 L587.2 630.4 L587.2 629.4 L587.2 628.4 L587.2 627.4 L587.2 626.4 L587.2 625.4 L587.2 624.4 L587.2 623.4 L587.2 622.4 L587.2 621.4 L587.2 620.4 L587.2 619.4 L587.2 618.4 L587.2 617.4 L587.2 616.4 L587.2 615.4 L587.2 614.4 L587.2 613.4 L587.2 612.4 L587.2 611.4 L587.2 610.4 L587.2 609.4 L587.2 608.4 L587.2 607.4 L587.2 606.4 L587.2 605.4 L587.2 604.4 L587.2 603.4 L587.2 602.4 L587.2 601.4 L587.2 600.4 L587.2 599.4 L587.2 598.4 L587.2 597.4 L587.2 596.4 L587.2 595.4 L587.2 594.4 L587.2 593.4 L587.2 592.4 L587.2 591.4 L587.2 590.4 L587.2 589.4 L587.2 588.4 L587.2 587.4 L587.2 586.4 L587.2 585.4 L587.2 584.4 L587.6 583.4 L588.6 582.4 L591.6 581.4Z" fill="#00BFC4"/><path d="M593.7 893.6 L593.7 894.6 L593.7 895.6 L593.7 896.6 L593.7 897.6 L593.7 898.6 L593.7 899.6 L593.7 900.6 L593.7 901.6 L593.7 902.6 L593.7 903.6 L593.7 904.6 L593.7 905.6 L593.7 906.6 L593.7 907.6 L593.7 908.6 L593.7 909.6 L593.7 910.6 L593.7 911.6 L593.7 912.6 L593.7 913.6 L593.7 914.6 L593.7 915.6 L593.7 916.6 L593.7 917.6 L593.7 918.6 L593.7 919.6 L593.7 920.6 L593.7 921.6 L593.7 922.6 L593.7 923.6 L593.7 924.6 L593.7 925.6 L593.7 926.6 L593.7 927.6 L593.7 928.6 L593.7 929.6 L593.7 930.6 L593.7 931.6 L593.7 932.6 L593.7 933.6 L593.7 934.6 L593.7 935.6 L593.7 936.6 L593.7 937.6 L593.7 938.6 L593.7 939.6 L593.7 940.6 L593.7 941.6 L593.7 942.6 L593.7 943.6 L593.7 944.6 L593.7 945.6 L593.7 946.6 L593.7 947.6 L593.7 948.6 L593.7 949.6 L593.7 950.6 L593.7 951.6 L593.7 952.6 L593.7 953.6 L593.7 954.6 L593.7 955.6 L593.7 956.6 L593.7 957.6 L593.7 958.6 L593.7 959.6 L593.7 960.6 L593.7 961.6 L593.7 962.6 L593.7 963.6 L593.7 964.6 L593.7 965.6 L593.7 966.6 L593.7 967.6 L593.7 968.6 L593.7 969.6 L593.7 970.6 L593.7 971.6 L593.7 972.6 L593.7 973.6 L593.7 974.6 L593.7 975.6 L593.7 976.6 L593.7 977.6 L593.7 978.6 L593.7 979.6 L593.7 980.6 L593.7 981.6 L593.7 982.6 L593.7 983.6 L593.7 984.6 L593.7 985.6 L593.6 986.6 L593.5 987.6 L593.4 988.6 L593.3 989.6 L593.3 990.6 L593.3 991.6 L593.3 992.6 L593.3 993.6 L593.3 994.6 L593.3 995.6 L593.3 996.6 L593.3 997.6 L593.2 998.6 L593.2 999.6 L593.2 1000.6 L593.2 1001.6 L593.2 1002.6 L593.2 1003.6 L593.2 1004.6 L592.8 1005.6 L591.6 1006.6 L589.9 1007.0 L589.9 1007.0 L588.2 1006.6 L587.0 1005.6 L586.8 1004.6 L586.6 1003.6 L586.5 1002.6 L586.5 1001.6 L586.5 1000.6 L586.6 999.6 L586.8 998.6 L586.7 997.6 L586.6 996.6 L586.5 995.6 L586.6 994.6 L586.7 993.6 L586.8 992.6 L586.7 991.6 L586.6 990.6 L586.5 989.6 L586.5 988.6 L586.5 987.6 L586.7 986.6 L586.7 985.6 L586.5 984.6 L586.4 983.6 L586.4 982.6 L586.5 981.6 L586.6 980.6 L586.6 979.6 L586.4 978.6 L586.3 977.6 L586.3 976.6 L586.4 975.6 L586.6 974.6 L586.6 973.6 L586.4 972.6 L586.2 971.6 L586.2 970.6 L586.3 969.6 L586.5 968.6 L586.6 967.6 L586.3 966.6 L586.1 965.6 L586.1 964.6 L586.2 963.6 L586.4 962.6 L586.6 961.6 L586.3 960.6 L586.1 959.6 L586.0 958.6 L586.1 957.6 L586.3 956.6 L586.6 955.6 L586.1 954.6 L585.5 953.6 L585.2 952.6 L585.2 951.6 L585.5 950.6 L586.0 949.6 L585.4 948.6 L584.9 947.6 L584.8 946.6 L584.9 945.6 L585.3 944.6 L585.9 943.6 L585.4 942.6 L584.9 941.6 L584.7 940.6 L584.8 939.6 L585.2 938.6 L585.7 937.6 L585.4 936.6 L584.9 935.6 L584.6 934.6 L584.7 933.6 L585.1 932.6 L585.5 931.6 L585.0 930.6 L584.3 929.6 L583.7 928.6 L583.5 927.6 L583.6 926.6 L583.9 925.6 L583.6 924.6 L583.1 923.6 L582.8 922.6 L582.8 921.6 L583.1 920.6 L583.7 919.6 L583.7 918.6 L583.1 917.6 L582.8 916.6 L582.8 915.6 L583.1 914.6 L583.6 913.6 L583.7 912.6 L583.1 911.6 L582.8 910.6 L582.7 909.6 L583.0 908.6 L583.5 907.6 L583.7 906.6 L583.1 905.6 L582.8 904.6 L582.7 903.6 L582.9 902.6 L583.4 901.6 L583.7 900.6 L583.1 899.6 L582.7 898.6 L582.6 897.6 L582.8 896.6 L583.3 895.6 L583.7 894.6 L583.2 893.6Z" fill="#00BFC4"/><path d="M597.5 692.8 L596.9 693.8 L596.9 694.8 L597.4 695.8 L597.7 696.8 L597.5 697.8 L597.0 698.8 L596.6 699.8 L597.2 700.8 L597.5 701.8 L597.5 702.8 L597.1 703.8 L596.4 704.8 L596.9 705.8 L597.3 706.8 L597.4 707.8 L597.1 708.8 L596.5 709.8 L596.6 710.8 L597.1 711.8 L597.3 712.8 L597.1 713.8 L596.6 714.8 L596.3 715.8 L596.9 716.8 L597.2 717.8 L596.7 718.8 L595.8 719.8 L594.7 720.8 L594.9 721.8 L595.1 722.8 L595.1 723.8 L594.9 724.8 L594.4 725.8 L594.6 726.8 L595.0 727.8 L595.2 728.8 L595.0 729.8 L594.6 730.8 L594.5 731.8 L594.9 732.8 L595.2 733.8 L595.1 734.8 L594.8 735.8 L594.4 736.8 L594.9 737.8 L595.2 738.8 L595.2 739.8 L594.9 740.8 L594.4 741.8 L594.7 742.8 L595.1 743.8 L595.2 744.8 L595.0 745.8 L594.6 746.8 L594.6 747.8 L595.1 748.8 L595.3 749.8 L595.2 750.8 L594.8 751.8 L594.4 752.8 L595.0 753.8 L595.3 754.8 L595.3 755.8 L594.9 756.8 L594.4 757.8 L594.8 758.8 L595.2 759.8 L595.3 760.8 L595.1 761.8 L594.6 762.8 L594.7 763.8 L595.2 764.8 L595.4 765.8 L595.2 766.8 L594.8 767.8 L594.5 768.8 L595.1 769.8 L595.4 770.8 L595.3 771.8 L594.9 772.8 L594.4 773.8 L595.0 774.8 L595.3 775.8 L595.4 776.8 L595.1 777.8 L594.5 778.8 L594.5 779.8 L594.5 780.8 L594.3 781.8 L594.0 782.8 L593.8 783.8 L593.8 784.8 L593.8 785.8 L593.8 786.8 L593.8 787.8 L593.8 788.8 L593.8 789.8 L593.8 790.8 L593.8 791.8 L593.8 792.8 L593.8 793.8 L593.8 794.8 L593.8 795.8 L593.8 796.8 L593.8 797.8 L593.8 798.8 L593.8 799.8 L593.8 800.8 L593.8 801.8 L593.8 802.8 L593.8 803.8 L593.8 804.8 L593.8 805.8 L593.8 806.8 L593.8 807.8 L593.8 808.8 L593.8 809.8 L593.8 810.8 L593.8 811.8 L593.8 812.8 L593.8 813.8 L593.8 814.8 L593.8 815.8 L593.8 816.8 L593.8 817.8 L593.8 818.8 L593.8 819.8 L593.8 820.8 L593.8 821.8 L593.8 822.8 L593.8 823.8 L593.8 824.8 L593.8 825.8 L593.8 826.8 L593.8 827.8 L593.8 828.8 L593.8 829.8 L593.8 830.8 L593.8 831.8 L593.8 832.8 L593.8 833.8 L593.8 834.8 L593.8 835.8 L593.8 836.8 L593.8 837.8 L593.8 838.8 L593.8 839.8 L593.8 840.8 L593.8 841.8 L593.8 842.8 L593.8 843.8 L593.8 844.8 L593.8 845.8 L593.8 846.8 L593.8 847.8 L593.8 848.8 L593.8 849.8 L593.8 850.8 L593.8 851.8 L593.8 852.8 L593.8 853.8 L593.8 854.8 L593.8 855.8 L593.8 856.8 L593.8 857.8 L593.8 858.8 L593.8 859.8 L593.8 860.8 L593.8 861.8 L593.8 862.8 L593.8 863.8 L593.8 864.8 L593.8 865.8 L593.8 866.8 L593.8 867.8 L593.8 868.8 L593.8 869.8 L593.8 870.8 L593.8 871.8 L593.8 872.8 L593.8 873.8 L593.8 874.8 L593.8 875.8 L593.8 876.8 L593.8 877.8 L593.8 878.8 L593.8 879.8 L593.8 880.8 L593.8 881.8 L593.8 882.8 L593.8 883.8 L593.7 884.8 L593.7 885.8 L593.7 886.8 L593.7 887.8 L593.7 888.8 L593.7 889.8 L593.7 890.8 L593.7 891.8 L593.7 892.8 L593.7 893.8 L593.7 894.0 L583.4 894.0 L583.3 893.8 L582.8 892.8 L582.6 891.8 L582.8 890.8 L583.2 889.8 L583.8 888.8 L583.4 887.8 L583.0 886.8 L582.8 885.8 L582.9 884.8 L583.2 883.8 L583.8 882.8 L583.6 881.8 L583.1 880.8 L582.9 879.8 L583.0 878.8 L583.3 877.8 L583.9 876.8 L583.8 875.8 L583.3 874.8 L583.1 873.8 L583.4 872.8 L584.1 871.8 L585.0 870.8 L585.3 869.8 L585.1 868.8 L585.1 867.8 L585.0 866.8 L585.4 865.8 L585.9 864.8 L586.0 863.8 L585.5 862.8 L585.2 861.8 L585.1 860.8 L585.4 859.8 L585.9 858.8 L586.2 857.8 L585.6 856.8 L585.3 855.8 L585.2 854.8 L585.4 853.8 L585.9 852.8 L586.3 851.8 L585.8 850.8 L585.4 849.8 L585.3 848.8 L585.5 847.8 L586.0 846.8 L586.4 845.8 L585.9 844.8 L585.5 843.8 L585.4 842.8 L585.6 841.8 L586.0 840.8 L586.5 839.8 L586.0 838.8 L585.7 837.8 L585.5 836.8 L585.7 835.8 L586.0 834.8 L586.5 833.8 L586.2 832.8 L585.8 831.8 L585.7 830.8 L585.8 829.8 L586.1 828.8 L586.5 827.8 L586.3 826.8 L586.0 825.8 L585.8 824.8 L585.9 823.8 L586.2 822.8 L586.5 821.8 L586.4 820.8 L586.1 819.8 L586.0 818.8 L586.0 817.8 L586.2 816.8 L586.5 815.8 L586.5 814.8 L586.2 813.8 L586.1 812.8 L586.1 811.8 L586.4 810.8 L586.7 809.8 L586.7 808.8 L586.6 807.8 L586.7 806.8 L586.8 805.8 L586.9 804.8 L586.9 803.8 L587.0 802.8 L587.1 801.8 L587.1 800.8 L587.2 799.8 L587.2 798.8 L587.2 797.8 L587.2 796.8 L587.2 795.8 L587.2 794.8 L587.2 793.8 L587.2 792.8 L587.2 791.8 L587.2 790.8 L587.2 789.8 L587.2 788.8 L587.2 787.8 L587.2 786.8 L587.2 785.8 L587.2 784.8 L587.2 783.8 L587.2 782.8 L587.2 781.8 L587.2 780.8 L587.2 779.8 L587.2 778.8 L587.2 777.8 L587.2 776.8 L587.2 775.8 L587.2 774.8 L587.2 773.8 L587.2 772.8 L587.2 771.8 L587.2 770.8 L587.2 769.8 L587.2 768.8 L587.2 767.8 L587.2 766.8 L587.2 765.8 L587.2 764.8 L587.2 763.8 L587.2 762.8 L587.2 761.8 L587.2 760.8 L587.2 759.8 L587.2 758.8 L587.2 757.8 L587.2 756.8 L587.2 755.8 L587.2 754.8 L587.2 753.8 L587.2 752.8 L587.2 751.8 L587.2 750.8 L587.2 749.8 L587.2 748.8 L587.2 747.8 L587.2 746.8 L587.2 745.8 L587.2 744.8 L587.2 743.8 L587.2 742.8 L587.2 741.8 L587.2 740.8 L587.2 739.8 L587.2 738.8 L587.2 737.8 L587.2 736.8 L587.2 735.8 L587.2 734.8 L587.2 733.8 L587.2 732.8 L587.2 731.8 L587.2 730.8 L587.2 729.8 L587.2 728.8 L587.2 727.8 L587.2 726.8 L587.2 725.8 L587.2 724.8 L587.2 723.8 L587.2 722.8 L587.2 721.8 L587.2 720.8 L587.2 719.8 L587.2 718.8 L587.2 717.8 L587.2 716.8 L587.2 715.8 L587.2 714.8 L587.2 713.8 L587.2 712.8 L587.2 711.8 L587.2 710.8 L587.2 709.8 L587.2 708.8 L587.2 707.8 L587.2 706.8 L587.2 705.8 L587.2 704.8 L587.2 703.8 L587.2 702.8 L587.2 701.8 L587.2 700.8 L587.2 699.8 L587.2 698.8 L587.2 697.8 L587.2 696.8 L587.2 695.8 L587.2 694.8 L587.2 693.8 L587.2 692.8Z" fill="#F8766D"/><circle cx="626.7" cy="693.1" r="3.62" fill="#F8766D"/><circle cx="602.1" cy="699.6" r="3.62" fill="#F8766D"/><circle cx="598.7" cy="695.3" r="3.62" fill="#F8766D"/><circle cx="638.1" cy="710.1" r="3.62" fill="#F8766D"/><circle cx="676.4" cy="716.2" r="3.62" fill="#F8766D"/><circle cx="615.3" cy="718.6" r="3.62" fill="#F8766D"/><circle cx="601.6" cy="715.7" r="3.62" fill="#F8766D"/><circle cx="597.9" cy="708.9" r="3.62" fill="#F8766D"/><circle cx="598.2" cy="747.8" r="3.62" fill="#F8766D"/><circle cx="595.3" cy="734.3" r="3.62" fill="#F8766D"/><circle cx="594.5" cy="739.4" r="3.62" fill="#F8766D"/><circle cx="598.2" cy="770.2" r="3.62" fill="#F8766D"/><circle cx="618.6" cy="776.4" r="3.62" fill="#F8766D"/><circle cx="600.1" cy="786.1" r="3.62" fill="#F8766D"/><circle cx="594.5" cy="758.6" r="3.62" fill="#F8766D"/><circle cx="595.3" cy="773.9" r="3.62" fill="#F8766D"/><circle cx="595.0" cy="704.0" r="3.62" fill="#F8766D"/><circle cx="595.0" cy="722.0" r="3.62" fill="#F8766D"/><circle cx="594.5" cy="728.0" r="3.62" fill="#F8766D"/><circle cx="594.0" cy="765.0" r="3.62" fill="#F8766D"/><circle cx="581.0" cy="823.0" r="3.62" fill="#F8766D"/><circle cx="588.2" cy="814.6" r="3.62" fill="#F8766D"/><circle cx="587.2" cy="827.3" r="3.62" fill="#F8766D"/><circle cx="544.4" cy="834.3" r="3.62" fill="#F8766D"/><circle cx="568.4" cy="843.5" r="3.62" fill="#F8766D"/><circle cx="586.4" cy="827.5" r="3.62" fill="#F8766D"/><circle cx="585.3" cy="835.0" r="3.62" fill="#F8766D"/><circle cx="584.7" cy="849.4" r="3.62" fill="#F8766D"/><circle cx="585.7" cy="857.2" r="3.62" fill="#F8766D"/><circle cx="587.1" cy="870.6" r="3.62" fill="#F8766D"/><circle cx="578.6" cy="876.0" r="3.62" fill="#F8766D"/><circle cx="582.8" cy="879.8" r="3.62" fill="#F8766D"/><circle cx="576.5" cy="886.2" r="3.62" fill="#F8766D"/><circle cx="580.7" cy="884.1" r="3.62" fill="#F8766D"/><circle cx="584.3" cy="887.6" r="3.62" fill="#F8766D"/><circle cx="586.4" cy="871.4" r="3.62" fill="#F8766D"/><circle cx="587.0" cy="842.0" r="3.62" fill="#F8766D"/><circle cx="587.0" cy="863.0" r="3.62" fill="#F8766D"/><circle cx="586.5" cy="880.0" r="3.62" fill="#F8766D"/><circle cx="587.0" cy="890.0" r="3.62" fill="#F8766D"/><circle cx="68.7" cy="890.5" r="3.62" fill="#F8766D"/>
<line x1="38.4" x2="706.7" y1="564.3" y2="564.3" stroke="#454545" stroke-width="1.2"/>
<line x1="706.2" x2="706.2" y1="564.3" y2="1024.5" stroke="#8a8a8a" stroke-width="1"/>
<line x1="38.4" x2="38.4" y1="563.6999999999999" y2="1025.5" stroke="#000" stroke-width="2.1"/>
<line x1="37.35" x2="706.7" y1="1024.5" y2="1024.5" stroke="#000" stroke-width="2.1"/>
<text x="33.6" y="583.2" text-anchor="end" class="tk">1.0</text>
<text x="33.6" y="689.6" text-anchor="end" class="tk">0.5</text>
<text x="33.6" y="796.0" text-anchor="end" class="tk">0.0</text>
<text x="33.6" y="902.4" text-anchor="end" class="tk">-0.5</text>
<text x="33.6" y="1008.8" text-anchor="end" class="tk">-1.0</text>
<text x="192.4" y="1035.7" text-anchor="middle" class="tk">-1000</text>
<text x="391.5" y="1035.7" text-anchor="middle" class="tk">-500</text>
<text x="591.0" y="1035.7" text-anchor="middle" class="tk">0</text>
<text x="372.3" y="1050.1" text-anchor="middle" class="ax" style="font-size:11.6px">p1</text>
<text transform="translate(13.4,794.4) rotate(-90)" text-anchor="middle" class="ax">splot</text>
<text transform="translate(372.5,555.7) scale(1.139,1)" text-anchor="middle" class="tt">splot (DS_AMF.DS_NAMF)</text>
<text transform="translate(0.8,555.9) scale(1.0,1)" class="pl">(b)</text>
</svg>
</body></html>
